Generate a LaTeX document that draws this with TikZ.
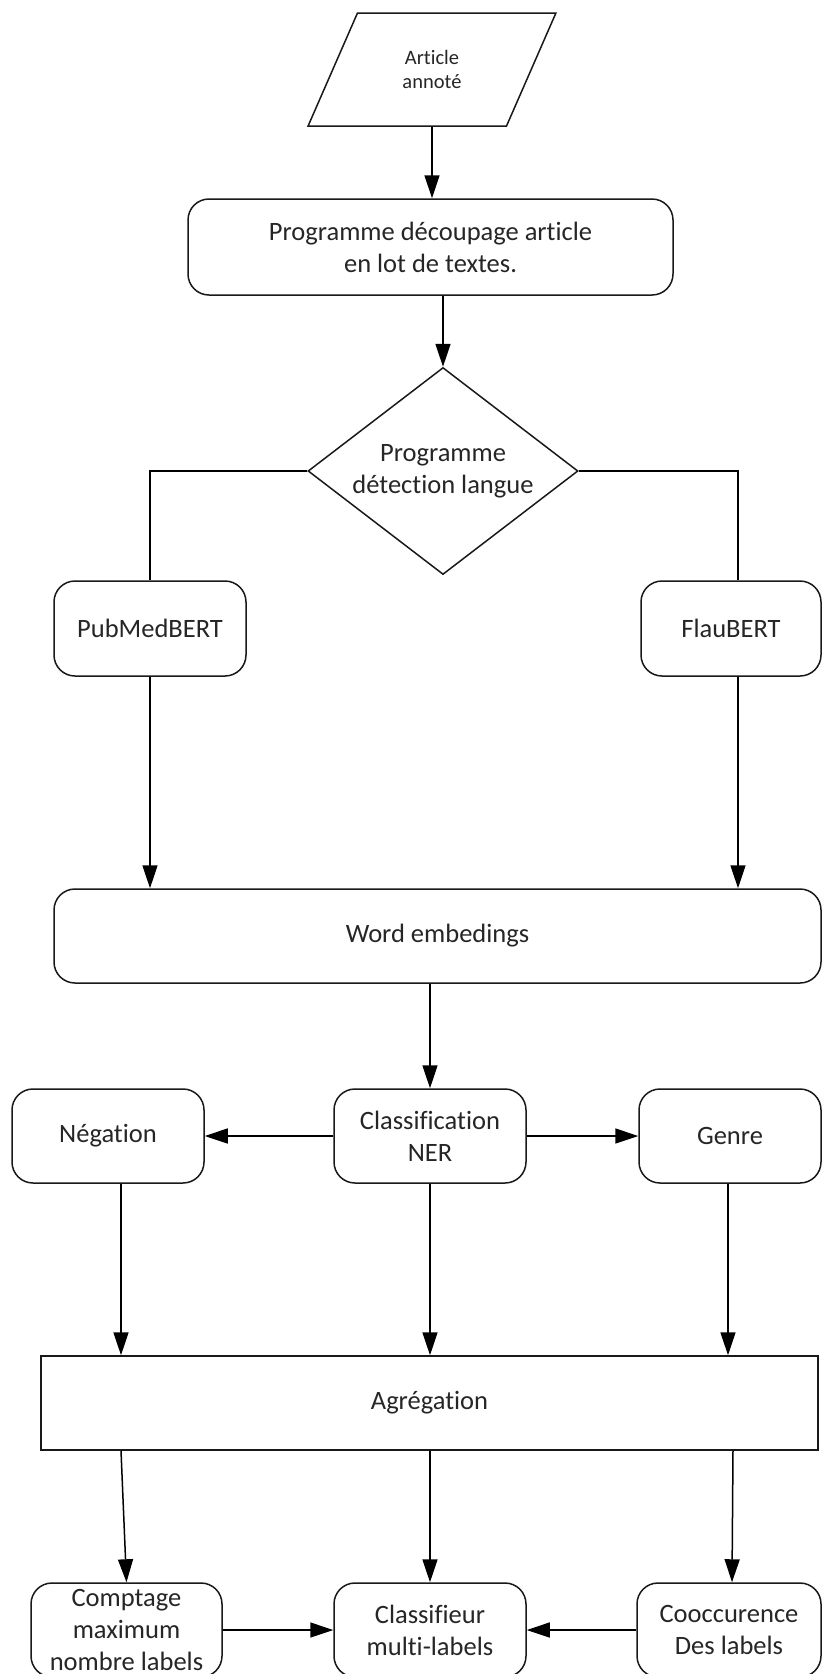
\documentclass[tikz,border=0pt]{standalone}
\usepackage{fontspec}
\setmainfont{Carlito}[Ligatures={NoCommon,NoRequired,NoContextual}]
\usetikzlibrary{shapes.geometric,arrows.meta}
\begin{document}
\begin{tikzpicture}[x=1pt,y=-1pt,
  every node/.style={font=\fontsize{26.5}{32}\selectfont, text=black!85, align=center, inner sep=0pt},
  rbox/.style={draw=black!90, line width=1.5pt, rounded corners=21pt, minimum height=94pt},
  sbox/.style={draw=black!90, line width=1.5pt, minimum height=94pt},
  conn/.style={line width=1.5pt, draw=black, -{Triangle[length=23pt,width=15pt]}},
  link/.style={line width=1.5pt, draw=black}]
\fill[white] (0,0) rectangle (822,1674);
\useasboundingbox (0,0) rectangle (822,1674);

% input document
\node[draw=black!90, line width=1.5pt, shape=trapezium, trapezium left angle=63,
      trapezium right angle=117, trapezium stretches=true,
      minimum width=250pt, minimum height=113pt,
      font=\fontsize{20.5}{24}\selectfont] (art) at (432,69.5) {Article\\annoté};

% processing steps
\node[rbox, minimum width=485pt, minimum height=96pt] (cut) at (430.5,247) {Programme découpage article\\en lot de textes.};
\node[draw=black!90, line width=1.5pt, shape=diamond, aspect=1.31,
      minimum width=270pt, minimum height=207pt] (lang) at (443,471) {Programme\\détection langue};
\node[rbox, minimum width=192pt, minimum height=95pt] (pub) at (150,628.5) {PubMedBERT};
\node[rbox, minimum width=180pt, minimum height=95pt] (flau) at (731,628.5) {FlauBERT};
\node[rbox, minimum width=767pt] (emb) at (437.5,936) {Word embedings};
\node[rbox, minimum width=192pt] (neg) at (108,1136) {Négation};
\node[rbox, minimum width=192pt] (ner) at (430,1136) {Classification\\NER};
\node[rbox, minimum width=182pt] (gen) at (730,1136) {Genre};
\node[sbox, minimum width=777pt] (agr) at (429.5,1403) {Agrégation};
\node[rbox, minimum width=191pt] (cnt) at (126.5,1630) {Comptage\\maximum\\nombre labels};
\node[rbox, minimum width=192pt] (clf) at (430,1630) {Classifieur\\multi-labels};
\node[rbox, minimum width=184pt] (coo) at (729,1630) {Cooccurence\\Des labels};

% connector end points off the node centres
\coordinate (flauN) at ([xshift=7pt]flau.north);
\coordinate (flauS) at ([xshift=7pt]flau.south);
\coordinate (negS) at ([xshift=13pt]neg.south);
\coordinate (genS) at ([xshift=-2pt]gen.south);
\coordinate (agrL) at ([xshift=-308.5pt]agr.south);
\coordinate (agrR) at ([xshift=303.5pt]agr.south);
\coordinate (cooN) at ([xshift=3pt]coo.north);

% connectors
\draw[conn] (art.south) -- (art.south |- cut.north);
\draw[conn] (lang.north |- cut.south) -- (lang.north);
\draw[link] (lang.west) -| (pub.north);
\draw[link] (lang.east) -| (flauN);
\draw[conn] (pub.south) -- (pub.south |- emb.north);
\draw[conn] (flauS) -- (flauS |- emb.north);
\draw[conn] (ner.north |- emb.south) -- (ner.north);
\draw[conn] (ner.west) -- (neg.east);
\draw[conn] (ner.east) -- (gen.west);
\draw[conn] (negS) -- (negS |- agr.north);
\draw[conn] (ner.south) -- (ner.south |- agr.north);
\draw[conn] (genS) -- (genS |- agr.north);
\draw[conn] (agrL) -- (cnt.north);
\draw[conn] (clf.north |- agr.south) -- (clf.north);
\draw[conn] (agrR) -- (cooN);
\draw[conn] (cnt.east) -- (clf.west);
\draw[conn] (coo.west) -- (clf.east);
\end{tikzpicture}
\end{document}
